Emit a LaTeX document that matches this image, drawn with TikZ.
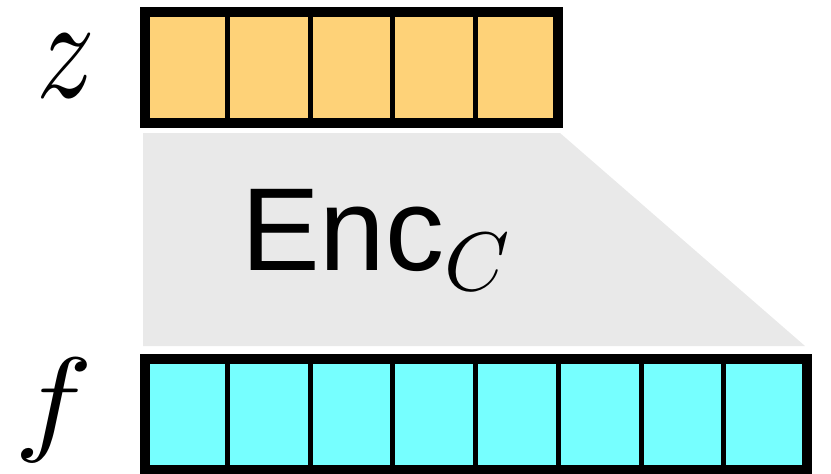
\documentclass[tikz,border=0pt]{standalone}
\usepackage{fontspec}
\newfontfamily\encfont{Liberation Sans}
\usetikzlibrary{calc}
\definecolor{zfill}{RGB}{254,210,120}
\definecolor{ffill}{RGB}{118,255,255}
\definecolor{encgray}{RGB}{233,233,233}
\begin{document}
\begin{tikzpicture}[x=1pt,y=-1pt,
  barbox/.style={draw=black,line width=10pt,inner sep=0pt,outer sep=0pt,rectangle},
  divider/.style={draw=black,line width=5pt},
  lbl/.style={inner sep=0pt,outer sep=0pt,anchor=base west}]
\useasboundingbox (0,0) rectangle (831,474);
% encoder trapezoid
\coordinate (t1) at (143,133);
\coordinate (t2) at (560,133);
\coordinate (t3) at (805,346);
\coordinate (t4) at (143,346);
\fill[encgray] (t1) -- (t2) -- (t3) -- (t4) -- cycle;
\node[lbl] (enc) at (241,270)
  {\encfont\fontsize{118}{118}\selectfont Enc\raisebox{-20pt}{\normalsize\scalebox{8.3}{$C$}}};
% z bar
\node[barbox,fill=zfill,minimum width=413pt,minimum height=111pt] (zb) at (351.5,67.5) {};
\foreach \i in {1,...,4}
  \draw[divider] ($(zb.north west)!\i/5!(zb.north east)$) -- ($(zb.south west)!\i/5!(zb.south east)$);
% f bar
\node[barbox,fill=ffill,minimum width=662pt,minimum height=111.5pt] (fb) at (475.5,414.25) {};
\foreach \i in {1,...,7}
  \draw[divider] ($(fb.north west)!\i/8!(fb.north east)$) -- ($(fb.south west)!\i/8!(fb.south east)$);
% labels
\node[lbl] (zl) at (36,97.5) {\scalebox{11.6}[14.6]{$z$}};
\node[lbl] (fl) at (15,439) {\scalebox{13.2}[11.7]{$f$}};
\end{tikzpicture}
\end{document}
